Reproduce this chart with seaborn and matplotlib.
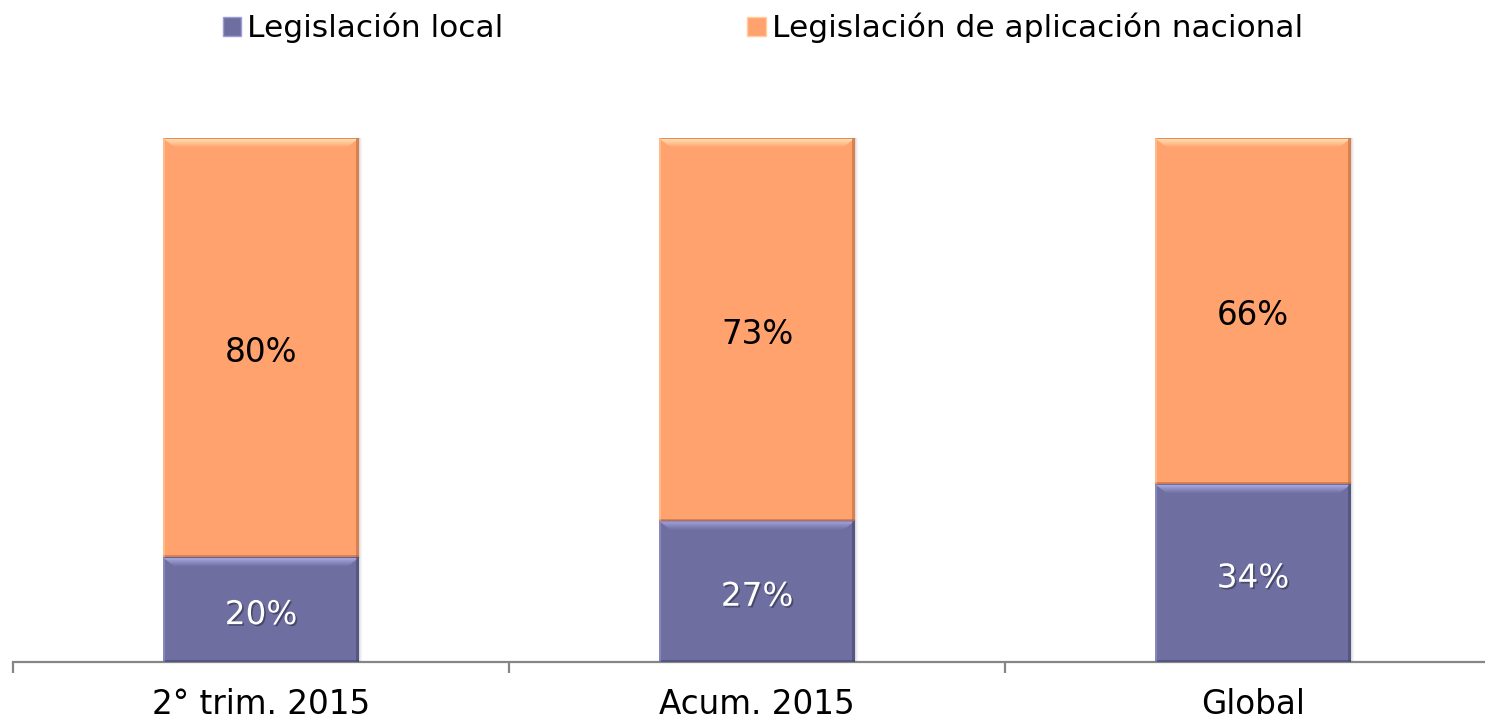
import matplotlib
matplotlib.use("Agg")
import matplotlib.pyplot as plt
import matplotlib.patches as mpatches
import matplotlib.patheffects as pe
import numpy as np
import pandas as pd
import seaborn as sns

# Data
categories = ["2° trim. 2015", "Acum. 2015", "Global"]
local_pct = [20, 27, 34]
nacional_pct = [80, 73, 66]
series_names = ["Legislación local", "Legislación de aplicación nacional"]

col_local = "#6E6EA0"
col_nac = "#FFA26E"

sns.set_theme(style="white")
plt.rcParams["font.family"] = ["DejaVu Sans"]
plt.rcParams["text.color"] = "black"

W, H = 1485, 721
fig = plt.figure(figsize=(W / 100, H / 100), dpi=100)
ax = fig.add_axes([13 / W, (H - 662) / H, 1488 / W, 524 / H])

df = pd.DataFrame({
    "cat": categories,
    "local": local_pct,
    "nacional": nacional_pct,
})
df["total"] = df["local"] + df["nacional"]

BAR_W = 0.397
# stacked bars: total first (orange), local on top of it from the base (purple)
sns.barplot(data=df, x="cat", y="total", color=col_nac, width=BAR_W,
            saturation=1, ax=ax, edgecolor="none", zorder=2)
sns.barplot(data=df, x="cat", y="local", color=col_local, width=BAR_W,
            saturation=1, ax=ax, edgecolor="none", zorder=3)

ax.set_xlim(-0.5, 2.5)
ax.set_ylim(0, 100)

px_x = 3.0 / 1488
px_y = 100.0 / 524


def mix(c1, c2, t):
    a = np.array(matplotlib.colors.to_rgb(c1))
    b = np.array(matplotlib.colors.to_rgb(c2))
    return tuple(a + (b - a) * t)


# bevel highlights and shading on each segment
segments = []
for i in range(len(categories)):
    segments.append((i, 0, local_pct[i], col_local, "#B8B8F2", "#44446C"))
    segments.append((i, local_pct[i], local_pct[i] + nacional_pct[i], col_nac, "#FFE2B4", "#B8643A"))
half = BAR_W / 2
for i, y0, y1, base, light, dark in segments:
    x0, x1 = i - half, i + half
    # soft shadow to the right
    for k, a in enumerate([0.14, 0.08, 0.04]):
        ax.add_patch(mpatches.Rectangle((x1 + k * px_x, y0), px_x, y1 - y0, color="#000000",
                                        alpha=a, lw=0, zorder=1))
    # top bevel: gradient from light to base over 9 px
    nb = 9
    for k in range(nb):
        t = k / nb
        ya, yb = y1 - k * px_y, y1 - (k + 1) * px_y
        inset_a, inset_b = k * px_x * 1.3, (k + 1) * px_x * 1.3
        c = mix(light, base, t) if k > 0 else mix(base, dark, 0.35)
        ax.add_patch(mpatches.Polygon([(x0 + inset_a, ya), (x1 - inset_a, ya),
                                       (x1 - inset_b, yb), (x0 + inset_b, yb)],
                                      closed=True, color=c, lw=0, zorder=4))
    # dark bottom edge
    ax.add_patch(mpatches.Rectangle((x0, y0), x1 - x0, 2 * px_y, color=dark,
                                    alpha=0.55, lw=0, zorder=4))
    # dark right edge
    ax.add_patch(mpatches.Rectangle((x1 - 3 * px_x, y0), 3 * px_x, y1 - y0, color=dark,
                                    alpha=0.55, lw=0, zorder=4))
    # light left edge
    ax.add_patch(mpatches.Rectangle((x0, y0), 2 * px_x, y1 - y0, color=light,
                                    alpha=0.35, lw=0, zorder=4))

# value labels
label_drop = 5 * px_y
for i in range(len(categories)):
    ax.text(i, local_pct[i] / 2 - label_drop, f"{local_pct[i]}%", ha="center", va="center",
            fontsize=23.5, color="white", zorder=5,
            path_effects=[pe.withSimplePatchShadow(offset=(1.2, -1.2), shadow_rgbFace="#2A2A44", alpha=0.55)])
    ax.text(i, local_pct[i] + nacional_pct[i] / 2 - label_drop, f"{nacional_pct[i]}%",
            ha="center", va="center", fontsize=23.5, color="black", zorder=5)

# axes styling
for s in ["top", "right", "left"]:
    ax.spines[s].set_visible(False)
ax.spines["bottom"].set_color("#868686")
ax.spines["bottom"].set_linewidth(1.6)
ax.set_yticks([])
ax.set_xlabel("")
ax.set_ylabel("")
ax.set_xticks(range(len(categories)))
ax.set_xticklabels(categories, fontsize=23.5, color="black")
ax.set_xticks([-0.5, 0.5, 1.5], minor=True)
ax.tick_params(axis="x", which="major", bottom=True, length=0, pad=19, labelcolor="black")
ax.tick_params(axis="x", which="minor", bottom=True, length=8, width=1.6,
               color="#868686", direction="out")

# legend
handles = [mpatches.Patch(facecolor=col_local, edgecolor="#9C9CD8", lw=1.0),
           mpatches.Patch(facecolor=col_nac, edgecolor="#FFCFA0", lw=1.0)]
fig.legend(handles, series_names, loc="center", bbox_to_anchor=(763 / W, 1 - 28 / H),
           ncol=2, frameon=False, fontsize=22.5, labelcolor="black",
           handlelength=0.58, handleheight=0.58,
           handletextpad=0.2, columnspacing=7.8, borderpad=0)

fig.savefig("out.png", dpi=100)
